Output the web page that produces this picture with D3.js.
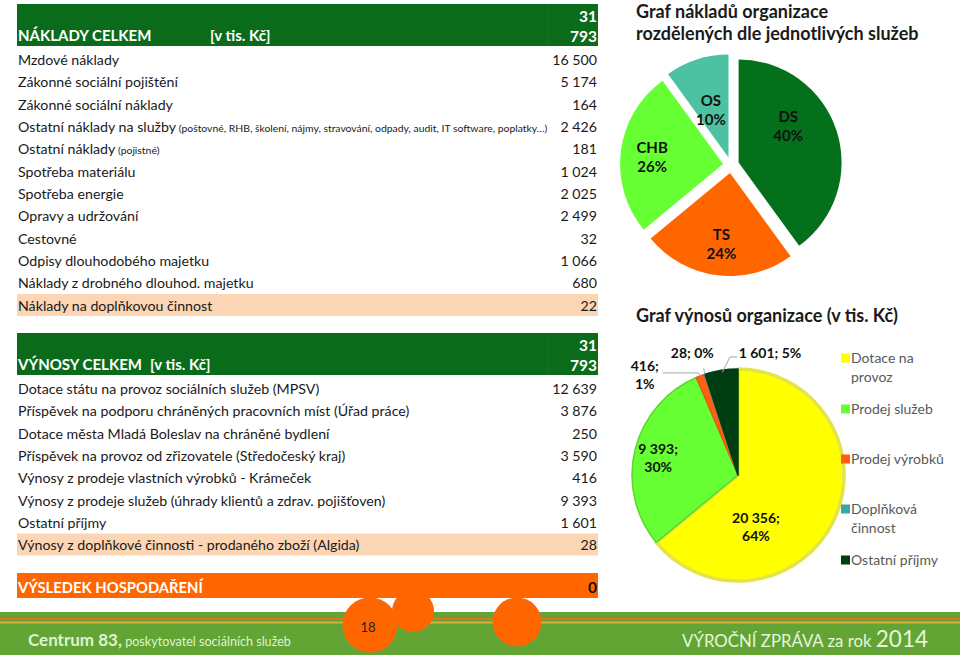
<!DOCTYPE html>
<html><head><meta charset="utf-8">
<script src="https://cdn.jsdelivr.net/npm/d3@7"></script>
<style>body{margin:0;background:#fff}svg{display:block;font-family:Lato,'Open Sans',sans-serif}</style>
</head><body><svg id="c" width="960" height="655"></svg>
<script>
// ---------- DATA ----------
const costTitle = "NÁKLADY CELKEM";
const unitLabel = "[v tis. Kč]";
const costTotal = 31793;
const costLabels = ["Mzdové náklady","Zákonné sociální pojištění","Zákonné sociální náklady","Ostatní náklady na služby","Ostatní náklady","Spotřeba materiálu","Spotřeba energie","Opravy a udržování","Cestovné","Odpisy dlouhodobého majetku","Náklady z drobného dlouhod. majetku","Náklady na doplňkovou činnost"];
const costNotes = ["","","","(poštovné, RHB, školení, nájmy, stravování, odpady, audit, IT software, poplatky…)","(pojistné)","","","","","","",""];
const costValues = [16500,5174,164,2426,181,1024,2025,2499,32,1066,680,22];
const revenueTitle = "VÝNOSY CELKEM";
const revenueTotal = 31793;
const revenueLabels = ["Dotace státu na provoz sociálních služeb (MPSV)","Příspěvek na podporu chráněných pracovních míst (Úřad práce)","Dotace města Mladá Boleslav na chráněné bydlení","Příspěvek na provoz od zřizovatele (Středočeský kraj)","Výnosy z prodeje vlastních výrobků - Krámeček","Výnosy z prodeje služeb (úhrady  klientů a zdrav. pojišťoven)","Ostatní příjmy","Výnosy z doplňkové činnosti - prodaného zboží (Algida)"];
const revenueValues = [12639,3876,250,3590,416,9393,1601,28];
const resultLabel = "VÝSLEDEK HOSPODAŘENÍ";
const resultValue = 0;
const pie1Title = ["Graf nákladů organizace","rozdělených dle jednotlivých služeb"];
const serviceCategories = ["DS","TS","CHB","OS"];
const serviceShares = [40,24,26,10];
const pie2Title = "Graf výnosů organizace (v tis. Kč)";
const incomeCategories = ["Dotace na provoz","Prodej služeb","Prodej výrobků","Doplňková činnost","Ostatní příjmy"];
const incomeLegendLines = [["Dotace na","provoz"],["Prodej služeb"],["Prodej výrobků"],["Doplňková","činnost"],["Ostatní příjmy"]];
const incomeValues = [20356,9393,416,28,1601];
const incomePercents = [64,30,1,0,5];
const footerLeft = ["Centrum 83,"," poskytovatel sociálních služeb"];
const footerRight = ["VÝROČNÍ ZPRÁVA za rok ","2014"];
const pageNumber = "18";

// ---------- STYLE / LAYOUT ----------
const C = {hdr:"#0a6b1a", peach:"#fcd5b4", orange:"#ff6600", text:"#1a1a1a", foot:"#62a535"};
const serviceColors = ["#05701b","#ff6600","#66ff33","#4dc2a2"];
const incomeColors = ["#ffff00","#66ff33","#ff5f10","#36a8a6","#003d10"];
const incomeStroke = ["#e3e34a","#5ad82e","#e85a10","#36a8a6","#003d10"];
const cz = d3.formatLocale({decimal:",",thousands:" ",grouping:[3],currency:["","Kč"]});
const fmt = cz.format(",d");

const svg = d3.select("#c");
const L = 17, R = 598, VX = 597;

function table(labels, values, notes, yFirst, yLast, hiIndex){
  const y = d3.scaleLinear().domain([0, labels.length-1]).range([yFirst, yLast]);
  const g = svg.append("g");
  g.append("rect").attr("x",L).attr("width",R-L).attr("y",y(hiIndex)-11.5).attr("height",22).attr("fill",C.peach);
  const rows = g.selectAll("g.row").data(labels).join("g").attr("transform",(d,i)=>`translate(0,${y(i)})`);
  const t = rows.append("text").attr("x",18).attr("dy","0.36em").attr("font-size",14.2).attr("fill",C.text);
  t.append("tspan").text(d=>d);
  if (notes) t.append("tspan").attr("font-size",10.4).text((d,i)=>notes[i]?" "+notes[i]:"");
  rows.append("text").attr("x",VX).attr("dy","0.36em").attr("text-anchor","end").attr("font-size",14.2).attr("fill",C.text).text((d,i)=>fmt(values[i]));
}
function header(title, titleGap, total, y0, y1){
  const g = svg.append("g");
  g.append("rect").attr("x",L).attr("y",y0).attr("width",R-L).attr("height",y1-y0).attr("fill",C.hdr);
  g.append("line").attr("x1",548).attr("x2",548).attr("y1",y0).attr("y2",y1).attr("stroke","#1d7a2c").attr("stroke-width",0.8);
  g.append("text").attr("x",18).attr("y",y1-5).attr("font-size",15).attr("font-weight",700).attr("fill","#fff")
    .text(title).append("tspan").attr("x",titleGap).text(unitLabel);
  const parts = fmt(total).split(" ");
  g.selectAll("text.tot").data(parts).join("text").attr("x",VX).attr("y",(d,i)=>y1-24+i*20)
    .attr("text-anchor","end").attr("font-size",15.5).attr("font-weight",700).attr("fill","#fff").text(d=>d);
}
header(costTitle, 210, costTotal, 4, 46);
table(costLabels, costValues, costNotes, 60, 305.5, 11);
header(revenueTitle, 150, revenueTotal, 333, 375);
table(revenueLabels, revenueValues, null, 389, 545, 7);

// result
svg.append("rect").attr("x",L).attr("y",573).attr("width",R-L).attr("height",25).attr("fill",C.orange);
svg.append("text").attr("x",18).attr("y",593).attr("font-size",14.8).attr("font-weight",700).attr("fill","#fff").text(resultLabel);
svg.append("text").attr("x",VX).attr("y",593).attr("text-anchor","end").attr("font-size",15.5).attr("font-weight",700).attr("fill","#111").text(fmt(resultValue));

// ---------- PIE 1 ----------
svg.selectAll("text.t1").data(pie1Title).join("text").attr("x",636).attr("y",(d,i)=>18+i*22)
  .attr("font-size",18).attr("font-weight",700).attr("fill","#1a1a1a").text(d=>d);
const c1 = {x:731,y:165}, r1 = 103, off1 = 8;
const pie = d3.pie().sort(null).value(d=>d);
const arcs1 = pie(serviceShares);
const arc1 = d3.arc().innerRadius(0).outerRadius(r1);
const lab1 = [[56,0.67],[187,0.77],[276,0.77],[340,0.57]];
const g1 = svg.append("g").attr("transform",`translate(${c1.x},${c1.y})`);
g1.selectAll("path").data(arcs1).join("path")
  .attr("transform",d=>{const a=(d.startAngle+d.endAngle)/2;return `translate(${off1*Math.sin(a)},${-off1*Math.cos(a)})`;})
  .attr("d",arc1).attr("fill",(d,i)=>serviceColors[i]);
const l1 = g1.selectAll("text").data(arcs1).join("text")
  .attr("transform",(d,i)=>{const a=lab1[i][0]*Math.PI/180, rr=lab1[i][1]*r1;return `translate(${rr*Math.sin(a)},${-rr*Math.cos(a)})`;})
  .attr("text-anchor","middle").attr("font-size",15).attr("font-weight",700).attr("fill","#111");
l1.append("tspan").attr("x",0).attr("y",-4).text((d,i)=>serviceCategories[i]);
l1.append("tspan").attr("x",0).attr("y",15).text((d,i)=>serviceShares[i]+"%");

// ---------- PIE 2 ----------
svg.append("text").attr("x",636).attr("y",322).attr("font-size",18).attr("font-weight",700).attr("fill","#1a1a1a").text(pie2Title);
const c2 = {x:738,y:475}, r2 = 106;
const arcs2 = pie(incomeValues);
const arc2 = d3.arc().innerRadius(0).outerRadius(r2);
const g2 = svg.append("g").attr("transform",`translate(${c2.x},${c2.y})`);
g2.selectAll("path").data(arcs2).join("path").attr("d",arc2)
  .attr("fill",(d,i)=>incomeColors[i]).attr("stroke",(d,i)=>incomeStroke[i]).attr("stroke-width",(d,i)=>i===0?3.5:1.5).attr("stroke-linejoin","round");
const lab2 = [[161,0.52,2],[282,0.77,2],[317,1.29,2],[339.5,1.23,1],[14.7,1.19,1]];
const pol = (ang, rr)=>[rr*Math.sin(ang*Math.PI/180), -rr*Math.cos(ang*Math.PI/180)];
// leader lines for small slices
arcs2.forEach((d,i)=>{
  if (i<2) return;
  const mid = (d.startAngle+d.endAngle)/2*180/Math.PI;
  const p0 = pol(mid, r2*1.0);
  const lp = pol(lab2[i][0], lab2[i][1]*r2);
  let pts;
  if (i===2) pts = [[lp[0]+18, p0[1]-3],[p0[0]-2,p0[1]-3],[p0[0],p0[1]]];
  else if (i===3) pts = [[p0[0]-1,p0[1]-6],[p0[0],p0[1]]];
  else pts = [[lp[0]-33,lp[1]+4],[lp[0]-40,lp[1]+4],[p0[0]+1,p0[1]+2]];
  g2.append("polyline").attr("points",pts.map(p=>p.join(",")).join(" ")).attr("fill","none").attr("stroke","#a6a6a6").attr("stroke-width",1);
});
const l2 = g2.selectAll("text.l").data(arcs2).join("text")
  .attr("transform",(d,i)=>{const p=pol(lab2[i][0],lab2[i][1]*r2);return `translate(${p[0]},${p[1]})`;})
  .attr("text-anchor","middle").attr("font-size",14).attr("font-weight",700).attr("fill","#111");
l2.each(function(d,i){
  const t = d3.select(this);
  if (lab2[i][2]===2){
    t.append("tspan").attr("x",0).attr("y",-4).text(fmt(incomeValues[i])+";");
    t.append("tspan").attr("x",0).attr("y",14).text(incomePercents[i]+"%");
  } else {
    t.append("tspan").attr("x",0).attr("y",5).text(fmt(incomeValues[i])+"; "+incomePercents[i]+"%");
  }
});
// legend
const legY = [358,409,459,509,560];
const lg = svg.append("g");
incomeLegendLines.forEach((lines,i)=>{
  lg.append("rect").attr("x",841).attr("y",legY[i]-4.5).attr("width",9).attr("height",9).attr("fill",incomeColors[i]);
  lines.forEach((ln,j)=>lg.append("text").attr("x",851).attr("y",legY[i]+5+j*19).attr("font-size",14).attr("fill","#595959").text(ln));
});

// ---------- FOOTER ----------
svg.append("rect").attr("x",0).attr("y",612).attr("width",960).attr("height",43).attr("fill",C.foot);
svg.append("rect").attr("x",0).attr("y",618).attr("width",960).attr("height",2).attr("fill","#e2701e");
svg.append("rect").attr("x",0).attr("y",621.5).attr("width",960).attr("height",2).attr("fill","#d9b03c");
[[370,625,27.5],[413,611,21],[517,622,24.5]].forEach(c=>svg.append("circle").attr("cx",c[0]).attr("cy",c[1]).attr("r",c[2]).attr("fill",C.orange));
svg.append("text").attr("x",368).attr("y",632).attr("text-anchor","middle").attr("font-size",13).attr("fill","#222").text(pageNumber);
const fl = svg.append("text").attr("x",28).attr("y",646).attr("fill","#dff3cf");
fl.append("tspan").attr("font-size",17).attr("font-weight",700).text(footerLeft[0]);
fl.append("tspan").attr("font-size",12.6).text(footerLeft[1]);
const fr = svg.append("text").attr("x",928).attr("y",647).attr("text-anchor","end").attr("fill","#e6f5dc");
fr.append("tspan").attr("font-size",16.8).text(footerRight[0]);
fr.append("tspan").attr("font-size",22.5).text(footerRight[1]);
</script></body></html>
